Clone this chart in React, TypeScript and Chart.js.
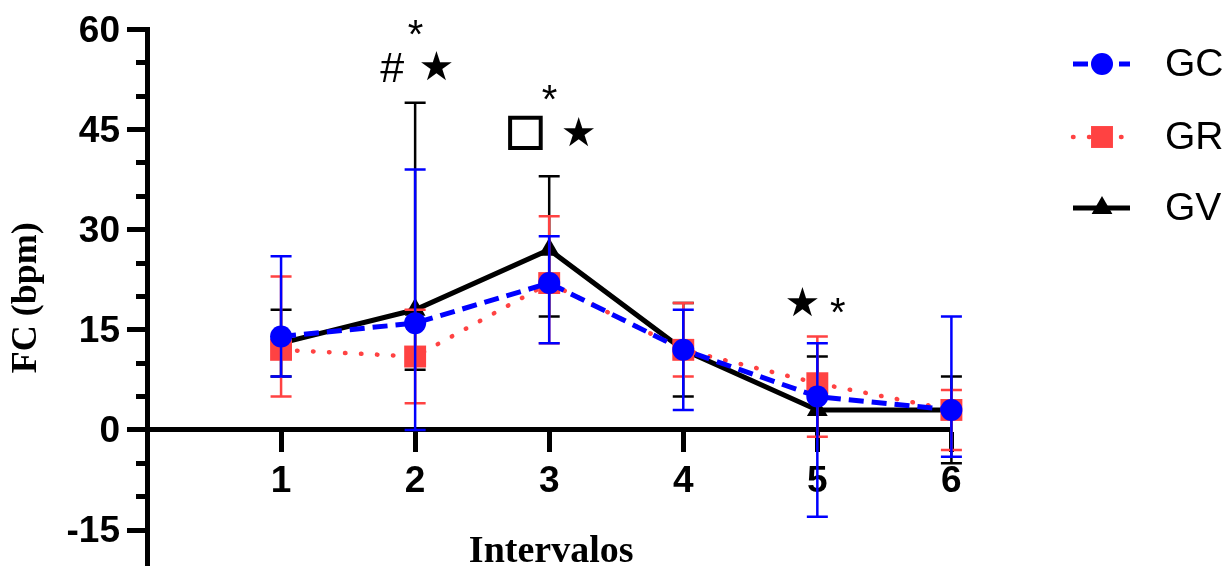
import { useEffect, useRef } from 'react';
import { Chart, registerables } from 'chart.js';
import { drawPoint } from 'chart.js/helpers';

Chart.register(...registerables);

// ---------- data ----------
const intervals = [1, 2, 3, 4, 5, 6];

const gcMean = [14, 16, 22, 12, 5, 3];
const gcUpper = [26, 39, 29, 18, 13, 17];
const gcLower = [8, 0, 13, 3, -13, -4];

const grMean = [12, 11, 22, 12, 7, 3];
const grUpper = [23, 18, 32, 19, 14, 6];
const grLower = [5, 4, 13, 8, -1, -3];

const gvMean = [13, 18, 27, 12, 3, 3];
const gvUpper = [18, 49, 38, 19, 11, 8];
const gvLower = [8, 9, 17, 5, 0, -5];

const seriesNames = ['GC', 'GR', 'GV'];

const yMajorTicks = [-15, 0, 15, 30, 45, 60];
const yMinorTicks = [-10, -5, 5, 10, 20, 25, 35, 40, 50, 55];

// significance marks, placed in data coordinates (interval, bpm)
const markSymbols = ['*', '#', '\u2605', '*', '\u25A1', '\u2605', '\u2605', '*'];
const markX = [2.0, 1.83, 2.16, 3.0, 2.82, 3.22, 4.89, 5.15];
const markY = [60.2, 54.3, 54.5, 50.5, 44.5, 44.6, 19.2, 18.7];

// ---------- styles ----------
const BLUE = '#0000FF';
const RED = '#FF4242';
const BLACK = '#000000';

const markFonts: Record<string, string> = {
  '*': '40px "Liberation Sans"',
  '#': '43px "Liberation Sans"',
  '\u2605': '40px "DejaVu Sans"',
  '\u25A1': '43px "DejaVu Sans"',
};

const toPoints = (vals: number[]) => vals.map((v, i) => ({ x: intervals[i], y: v }));

const errorBarPlugin = {
  id: 'errorBars',
  beforeDatasetDraw(chart: any, args: any) {
    const ds = chart.data.datasets[args.index];
    const eb = ds.errorBars;
    if (!eb) return;
    const yScale = chart.scales.y;
    const ctx = chart.ctx;
    ctx.save();
    ctx.strokeStyle = ds.borderColor;
    ctx.lineWidth = 2.5;
    ctx.setLineDash([]);
    ctx.lineCap = 'butt';
    args.meta.data.forEach((pt: any, i: number) => {
      const x = pt.x;
      const yU = yScale.getPixelForValue(eb.upper[i]);
      const yL = yScale.getPixelForValue(eb.lower[i]);
      const half = 10.5;
      ctx.beginPath();
      ctx.moveTo(x, yU);
      ctx.lineTo(x, yL);
      ctx.moveTo(x - half, yU);
      ctx.lineTo(x + half, yU);
      ctx.moveTo(x - half, yL);
      ctx.lineTo(x + half, yL);
      ctx.stroke();
    });
    ctx.restore();
  },
};

const decorPlugin = {
  id: 'decor',
  beforeDatasetsDraw(chart: any) {
    // minor ticks on the y axis
    const ctx = chart.ctx;
    const y = chart.scales.y;
    const left = chart.chartArea.left;
    ctx.save();
    ctx.strokeStyle = BLACK;
    ctx.lineWidth = 5;
    yMinorTicks.forEach((v) => {
      const py = Math.round(y.getPixelForValue(v) - 2.5) + 2.5;
      ctx.beginPath();
      ctx.moveTo(left - 11, py);
      ctx.lineTo(left - 2, py);
      ctx.stroke();
    });
    ctx.restore();
  },
  afterDraw(chart: any) {
    const ctx = chart.ctx;
    const xs = chart.scales.x;
    const ys = chart.scales.y;
    const area = chart.chartArea;

    // x axis title
    ctx.save();
    ctx.fillStyle = BLACK;
    ctx.font = 'bold 38px "Liberation Serif"';
    ctx.textAlign = 'center';
    ctx.textBaseline = 'alphabetic';
    ctx.fillText('Intervalos', (area.left + area.right) / 2 + 2, chart.height - 4);
    ctx.restore();

    // significance marks
    markSymbols.forEach((s, i) => {
      const cx = xs.getPixelForValue(markX[i]);
      const cy = ys.getPixelForValue(markY[i]);
      ctx.save();
      ctx.font = markFonts[s];
      ctx.fillStyle = BLACK;
      ctx.textAlign = 'left';
      ctx.textBaseline = 'alphabetic';
      const m = ctx.measureText(s);
      const tx = cx - (m.actualBoundingBoxRight - m.actualBoundingBoxLeft) / 2;
      const ty = cy + (m.actualBoundingBoxAscent - m.actualBoundingBoxDescent) / 2;
      ctx.fillText(s, tx, ty);
      if (s === '\u25A1') {
        ctx.strokeStyle = BLACK;
        ctx.lineWidth = 1.6;
        ctx.strokeText(s, tx, ty);
      }
      ctx.restore();
    });

    // legend (line + marker + name)
    const lineX0 = 1073;
    const lineX1 = 1130;
    const markerX = 1102;
    const textX = 1165;
    const rowY = [64, 137, 208];
    chart.data.datasets.forEach((ds: any, i: number) => {
      const yy = rowY[i];
      ctx.save();
      ctx.strokeStyle = ds.borderColor;
      ctx.lineWidth = ds.borderWidth;
      ctx.lineCap = ds.borderCapStyle || 'butt';
      ctx.setLineDash(ds.borderDash || []);
      ctx.beginPath();
      ctx.moveTo(lineX0, yy);
      ctx.lineTo(lineX1, yy);
      ctx.stroke();
      ctx.setLineDash([]);
      ctx.fillStyle = ds.pointBackgroundColor;
      ctx.strokeStyle = ds.pointBackgroundColor;
      drawPoint(ctx, { pointStyle: ds.pointStyle, radius: ds.pointRadius, rotation: 0, borderWidth: 0 } as any, markerX, yy);
      ctx.fillStyle = BLACK;
      ctx.font = '39px "Liberation Sans"';
      ctx.textAlign = 'left';
      ctx.textBaseline = 'middle';
      ctx.fillText(ds.label, textX, yy + 1);
      ctx.restore();
    });
  },
};

export default function App() {
  const ref = useRef<HTMLCanvasElement>(null);

  useEffect(() => {
    if (!ref.current) return;
    const chart = new Chart(ref.current, {
      type: 'line',
      data: {
        datasets: [
          {
            label: seriesNames[0],
            data: toPoints(gcMean),
            errorBars: { upper: gcUpper, lower: gcLower },
            borderColor: BLUE,
            backgroundColor: BLUE,
            borderWidth: 5,
            borderDash: [15, 8],
            pointStyle: 'circle',
            pointRadius: 11,
            pointBackgroundColor: BLUE,
            pointBorderColor: BLUE,
            pointBorderWidth: 0,
            tension: 0,
            clip: false,
          } as any,
          {
            label: seriesNames[1],
            data: toPoints(grMean),
            errorBars: { upper: grUpper, lower: grLower },
            borderColor: RED,
            backgroundColor: RED,
            borderWidth: 4.5,
            borderDash: [0.5, 15.5],
            borderCapStyle: 'round',
            pointStyle: 'rect',
            pointRadius: 15.5,
            pointBackgroundColor: RED,
            pointBorderColor: RED,
            pointBorderWidth: 0,
            tension: 0,
            clip: false,
          } as any,
          {
            label: seriesNames[2],
            data: toPoints(gvMean),
            errorBars: { upper: gvUpper, lower: gvLower },
            borderColor: BLACK,
            backgroundColor: BLACK,
            borderWidth: 5,
            pointStyle: 'triangle',
            pointRadius: 12,
            pointBackgroundColor: BLACK,
            pointBorderColor: BLACK,
            pointBorderWidth: 0,
            tension: 0,
            clip: false,
          } as any,
        ],
      },
      options: {
        responsive: false,
        animation: false,
        events: [],
        layout: {
          autoPadding: false,
          padding: { top: 29.3, left: 0, right: 280.6, bottom: 0 },
        } as any,
        plugins: {
          legend: { display: false },
          tooltip: { enabled: false },
          title: { display: false },
        },
        scales: {
          x: {
            type: 'linear',
            position: { y: 0 } as any,
            min: 0,
            max: 6,
            afterBuildTicks: (s: any) => {
              s.ticks = intervals.map((v) => ({ value: v }));
            },
            afterFit: (s: any) => {
              s.paddingLeft = 0;
              s.paddingRight = 0;
            },
            border: { display: true, color: BLACK, width: 5 },
            grid: {
              display: true,
              drawOnChartArea: false,
              drawTicks: true,
              tickLength: 20,
              tickWidth: 5,
              tickColor: BLACK,
            },
            ticks: {
              color: BLACK,
              font: { family: 'Liberation Sans', weight: 'bold', size: 37 },
              padding: 10,
              maxRotation: 0,
              autoSkip: false,
              callback: (v: any) => String(v),
            },
          },
          y: {
            type: 'linear',
            position: 'left',
            min: -20.37,
            max: 60,
            afterBuildTicks: (s: any) => {
              s.ticks = yMajorTicks.map((v) => ({ value: v }));
            },
            afterFit: (s: any) => {
              s.width = 147;
              s.paddingTop = 0;
              s.paddingBottom = 0;
            },
            border: { display: true, color: BLACK, width: 5 },
            grid: {
              display: true,
              drawOnChartArea: false,
              drawTicks: true,
              tickLength: 20,
              tickWidth: 5,
              tickColor: BLACK,
            },
            ticks: {
              color: BLACK,
              font: { family: 'Liberation Sans', weight: 'bold', size: 37 },
              padding: 7,
              labelOffset: 2,
              callback: (v: any) => String(v),
            },
            title: {
              display: true,
              text: 'FC (bpm)',
              color: BLACK,
              font: { family: 'Liberation Serif', weight: 'bold', size: 36 },
              padding: { top: 4.7, bottom: 0 },
            },
          },
        },
      } as any,
      plugins: [errorBarPlugin, decorPlugin],
    });
    return () => chart.destroy();
  }, []);

  return (
    <div style={{ position: 'absolute', left: 0, top: 0, width: 1232, height: 566 }}>
      <canvas ref={ref} width={1232} height={566} style={{ display: 'block' }} />
    </div>
  );
}
